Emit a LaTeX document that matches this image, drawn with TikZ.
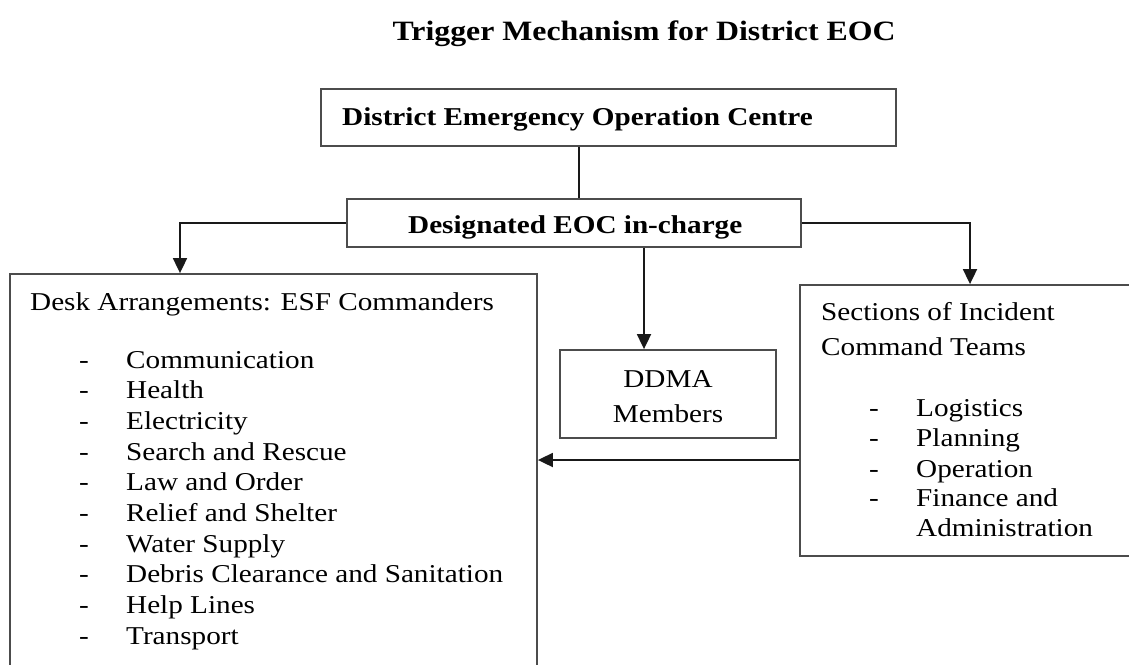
\documentclass[tikz,border=0pt]{standalone}
\usepackage{fontspec}
\setmainfont[FakeStretch=1.136]{Liberation Serif}
\usetikzlibrary{arrows.meta}
\begin{document}
\begin{tikzpicture}[x=1pt,y=-1pt,
  box/.style={draw=black!70,line width=1.8pt,inner sep=0pt,rectangle},
  txt/.style={inner sep=0pt,anchor=base west,font=\fontsize{25.7}{30}\selectfont},
  btxt/.style={txt,font=\fontsize{25.7}{30}\selectfont\bfseries},
  conn/.style={line width=1.8pt,draw=black!90},
  arr/.style={conn,-{Triangle[length=15pt,width=14pt]}}]
\useasboundingbox (0,0) rectangle (1129,664);
% title
\node[inner sep=0pt,anchor=base,font=\fontsize{28}{32}\selectfont\bfseries] (title) at (644,40) {Trigger Mechanism for District EOC};
% boxes
\node[box,minimum width=575pt,minimum height=57pt] (deoc) at (608.5,117.5) {};
\node[box,minimum width=454pt,minimum height=48pt] (desig) at (574,223) {};
\node[box,minimum width=527pt,minimum height=396pt] (lbox) at (273.5,472) {};
\node[box,minimum width=216pt,minimum height=88pt] (ddma) at (668,394) {};
\node[box,minimum width=340pt,minimum height=271pt] (rbox) at (970,420.5) {};
% box texts
\node[btxt] (deoct) at (342,125) {District Emergency Operation Centre};
\node[btxt] (desigt) at (408,233) {Designated EOC in-charge};
\node[txt,anchor=base] (ddma1) at (668,387) {DDMA};
\node[txt,anchor=base] (ddma2) at (668,422) {Members};
\node[txt] (lhead) at (30,310) {Desk Arrangements: ESF Commanders};
\node[txt] (rhead1) at (821,320) {Sections of Incident};
\node[txt] (rhead2) at (821,355) {Command Teams};
% left items
\foreach \t [count=\i] in {Communication,Health,Electricity,Search and Rescue,Law and Order,Relief and Shelter,Water Supply,Debris Clearance and Sanitation,Help Lines,Transport}{
  \node[txt] (ld\i) at (79,{368+(\i-1)*30.67}) {-};
  \node[txt] (li\i) at (126,{368+(\i-1)*30.67}) {\t};
}
% right items
\foreach \t/\yy [count=\i] in {Logistics/416,Planning/446,Operation/477,Finance and/506}{
  \node[txt] (rd\i) at (869,\yy) {-};
  \node[txt] (ri\i) at (916,\yy) {\t};
}
\node[txt] (ri5) at (916,536) {Administration};
% connector coordinates
\coordinate (cx) at (579,0);
\coordinate (lx) at (180,0);
\coordinate (rx) at (970,0);
\coordinate (mx) at (644,0);
\coordinate (hy) at (0,460);
% connectors
\draw[conn] (deoc.south -| cx) -- (desig.north -| cx);
\draw[arr] (desig.west) -| (lbox.north -| lx);
\draw[arr] (desig.east) -| (rbox.north -| rx);
\draw[arr] (desig.south -| mx) -- (ddma.north -| mx);
\draw[arr] (rbox.west |- hy) -- (lbox.east |- hy);
\end{tikzpicture}
\end{document}
